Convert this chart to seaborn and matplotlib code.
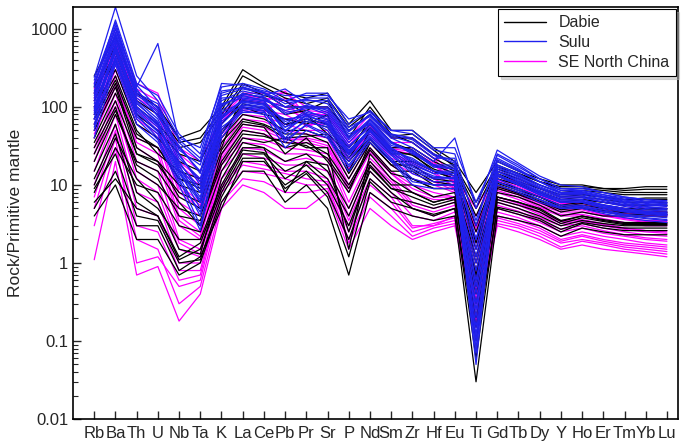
import pandas as pd
import matplotlib
matplotlib.use('Agg')
import matplotlib.pyplot as plt
import seaborn as sns
from matplotlib.lines import Line2D
from matplotlib.ticker import FuncFormatter, LogLocator

# element order on the spider diagram
elements = ['Rb', 'Ba', 'Th', 'U', 'Nb', 'Ta', 'K', 'La', 'Ce', 'Pb', 'Pr', 'Sr', 'P', 'Nd',
            'Sm', 'Zr', 'Hf', 'Eu', 'Ti', 'Gd', 'Tb', 'Dy', 'Y', 'Ho', 'Er', 'Tm', 'Yb', 'Lu']

# Sulu samples (rock / primitive mantle)
sulu = [
    [240, 1900, 250, 120, 40, 30, 180, 200, 170, 120, 150, 150, 60, 90, 50, 45, 28, 25, 3, 25, 18, 12, 9, 9, 8, 7, 6.5, 6.3],
    [200, 1100, 180, 650, 35, 20, 150, 180, 150, 100, 130, 130, 50, 80, 45, 40, 25, 20, 2, 22, 16, 11, 8.5, 8.5, 7.5, 6.5, 6, 5.8],
    [150, 900, 160, 90, 30, 15, 120, 160, 140, 170, 110, 90, 40, 70, 40, 30, 20, 40, 5, 28, 19, 13, 10, 9.5, 8, 7, 6.5, 6],
    [120, 700, 140, 100, 25, 10, 100, 150, 130, 80, 100, 80, 35, 65, 35, 25, 18, 18, 0.5, 18, 14, 10, 8, 8, 7, 6, 5.5, 5.3],
    [100, 600, 120, 70, 20, 8, 90, 140, 120, 60, 90, 70, 30, 60, 30, 20, 15, 15, 0.1, 16, 12, 9, 7, 7, 6, 5.5, 5, 4.8],
    [80, 500, 100, 60, 18, 6, 70, 120, 110, 50, 80, 60, 25, 50, 28, 18, 14, 14, 0.05, 15, 11, 8, 6.5, 6.5, 5.5, 5, 4.5, 4.3],
    [60, 450, 90, 50, 15, 5, 60, 110, 100, 40, 70, 50, 20, 45, 25, 15, 12, 12, 0.3, 13, 10, 7.5, 6, 6, 5, 4.5, 4.2, 4],
    [50, 400, 80, 40, 12, 3, 50, 100, 90, 35, 60, 45, 18, 40, 22, 12, 10, 10, 1, 12, 9, 7, 5.5, 5.5, 4.8, 4.2, 4, 3.8],
    [40, 350, 60, 35, 10, 2.6, 40, 90, 80, 30, 50, 40, 15, 35, 20, 10, 9, 9, 0.8, 10, 8, 6, 5, 5, 4.3, 3.8, 3.5, 3.3],
    [180, 1300, 200, 140, 45, 25, 200, 190, 160, 140, 140, 140, 70, 85, 50, 50, 30, 30, 6, 24, 17, 12, 9, 8.5, 7.5, 6.8, 6.2, 6],
    [130, 800, 130, 80, 22, 12, 110, 130, 120, 100, 100, 100, 45, 60, 32, 28, 18, 16, 2, 17, 13, 9.5, 7.5, 7.5, 6.5, 5.8, 5.3, 5],
    [90, 550, 110, 65, 16, 7, 80, 100, 95, 70, 75, 65, 28, 50, 27, 22, 15, 13, 0.2, 14, 10, 7.5, 6, 6, 5.2, 4.6, 4.3, 4.1],
    [70, 650, 75, 45, 13, 4, 55, 85, 85, 45, 65, 55, 22, 42, 24, 14, 11, 11, 0.15, 11, 8.5, 6.5, 5, 5.2, 4.5, 4, 3.7, 3.5],
    [160, 1000, 150, 110, 28, 18, 140, 170, 150, 120, 120, 120, 55, 75, 42, 35, 22, 22, 1.5, 20, 15, 11, 8, 8, 7, 6.2, 5.8, 5.5],
    [110, 750, 95, 55, 19, 9, 85, 115, 105, 55, 85, 75, 32, 55, 30, 19, 14, 14, 0.4, 15, 11.5, 8.5, 6.8, 6.8, 6, 5.3, 4.8, 4.6],
    [220, 1200, 170, 75, 32, 14, 130, 135, 125, 90, 105, 85, 38, 68, 36, 26, 17, 17, 0.08, 18, 13.5, 10, 7.8, 7.8, 6.8, 6, 5.6, 5.4],
    [70, 420, 85, 48, 14, 6, 65, 105, 98, 55, 72, 58, 24, 48, 26, 17, 13, 12, 0.6, 13, 10, 7.5, 6, 6, 5.2, 4.7, 4.4, 4.2],
    [95, 580, 115, 62, 17, 8, 75, 125, 115, 65, 82, 68, 27, 52, 29, 21, 15, 14, 0.25, 15, 11, 8.2, 6.4, 6.4, 5.6, 5, 4.6, 4.4],
    [140, 850, 145, 85, 24, 11, 105, 145, 135, 85, 95, 95, 42, 62, 34, 27, 17, 16, 1.2, 17, 12.5, 9.2, 7.2, 7.2, 6.3, 5.6, 5.2, 5],
    [55, 380, 70, 38, 11, 4.5, 45, 95, 88, 38, 58, 42, 17, 38, 21, 11, 10, 10, 0.12, 11, 8.5, 6.5, 5.2, 5.3, 4.6, 4.1, 3.8, 3.6],
    [190, 1000, 190, 95, 38, 22, 160, 175, 155, 110, 125, 110, 48, 78, 44, 38, 24, 19, 3.5, 21, 15.5, 11, 8.5, 8.2, 7.2, 6.4, 6, 5.7],
    [85, 520, 100, 58, 15, 6.5, 72, 118, 108, 48, 78, 62, 26, 50, 27, 16, 12.5, 12.5, 0.07, 13.5, 10.5, 7.8, 6.2, 6.2, 5.4, 4.8, 4.4, 4.2],
]

# Dabie samples
dabie = [
    [250, 800, 150, 100, 40, 50, 100, 300, 200, 150, 130, 150, 60, 120, 50, 50, 30, 20, 8, 20, 15, 12, 10, 10, 9, 9, 9.5, 9.5],
    [150, 500, 100, 60, 30, 35, 80, 200, 150, 100, 100, 100, 50, 80, 40, 40, 25, 18, 6, 18, 14, 11, 9, 9, 8.5, 8, 8, 8],
    [100, 300, 60, 40, 20, 15, 60, 120, 110, 60, 70, 60, 30, 60, 30, 30, 20, 15, 3, 15, 12, 9, 7, 7.5, 7, 6.5, 6.5, 6.5],
    [60, 200, 30, 20, 10, 8, 40, 80, 70, 50, 50, 40, 20, 40, 20, 20, 15, 12, 2, 12, 10, 8, 6, 6.5, 6, 5.5, 5.5, 5.5],
    [30, 100, 15, 10, 5, 4, 20, 50, 45, 30, 35, 25, 10, 30, 15, 15, 10, 10, 1, 10, 8, 6.5, 5, 5.5, 5, 4.5, 4.5, 4.5],
    [15, 60, 8, 5, 2, 2, 10, 30, 30, 20, 25, 15, 5, 20, 10, 10, 7, 8, 0.5, 8, 7, 5.5, 4, 4.5, 4, 4, 4, 4],
    [5, 15, 3, 3, 0.8, 1.2, 5, 20, 20, 10, 15, 8, 2, 12, 7, 6, 5, 6, 0.2, 6, 5, 4, 3, 3.5, 3.2, 3, 3, 3],
    [4, 10, 2, 2, 0.7, 1, 6, 15, 15, 6, 10, 5, 0.7, 8, 5, 4, 3.5, 4, 0.03, 4, 3.5, 3, 2.2, 2.8, 2.5, 2.3, 2.3, 2.3],
    [8, 30, 10, 8, 3, 2.5, 15, 40, 35, 40, 30, 30, 1.5, 25, 12, 8, 6, 7, 0.3, 7, 6, 5, 3.5, 4, 3.5, 3.2, 3.2, 3.2],
    [40, 150, 40, 30, 12, 10, 50, 100, 80, 70, 60, 80, 15, 50, 25, 25, 15, 12, 1.5, 13, 10, 8, 6.5, 6.5, 6, 5.5, 5.5, 5.5],
    [20, 80, 20, 15, 6, 3, 25, 60, 55, 25, 40, 20, 8, 35, 18, 12, 9, 9, 0.8, 9, 7.5, 6, 4.5, 5, 4.5, 4.2, 4.2, 4.2],
    [80, 250, 50, 25, 15, 12, 30, 150, 130, 80, 90, 120, 40, 100, 45, 35, 22, 16, 4, 16, 13, 10, 8, 8.5, 8, 7.5, 7.5, 7.5],
    [6, 12, 5, 4, 1.1, 1.5, 8, 25, 25, 12, 18, 10, 3, 15, 8, 5, 4, 5, 0.1, 5, 4.2, 3.5, 2.5, 3.2, 2.8, 2.6, 2.6, 2.6],
    [50, 180, 25, 18, 8, 6, 35, 70, 60, 45, 45, 35, 12, 35, 18, 18, 12, 11, 0.6, 11, 9, 7, 5.5, 6, 5.5, 5, 5, 5],
    [120, 400, 80, 50, 25, 20, 70, 180, 140, 120, 80, 45, 25, 70, 35, 28, 18, 14, 2.5, 14, 11, 9, 7.5, 7.5, 7, 6.5, 6.8, 6.8],
    [10, 40, 12, 6, 1.5, 1.3, 12, 35, 30, 8, 20, 12, 4, 18, 9, 7, 5.5, 6.5, 0.4, 6.5, 5.5, 4.5, 3.2, 3.8, 3.4, 3.1, 3.1, 3.1],
    [25, 90, 18, 12, 4, 3.5, 18, 45, 42, 35, 32, 22, 9, 28, 14, 12, 9, 9, 0.7, 9.5, 7.8, 6.2, 4.8, 5.2, 4.7, 4.4, 4.4, 4.4],
    [70, 220, 45, 30, 12, 9, 45, 110, 95, 60, 65, 55, 22, 55, 28, 24, 16, 13, 1.8, 13, 10.5, 8.2, 6.5, 7, 6.5, 6, 6, 6],
    [12, 45, 6, 4, 1.2, 1.8, 9, 28, 26, 15, 20, 18, 2.5, 17, 9, 8, 6, 7, 0.15, 7, 6, 4.8, 3.4, 4, 3.6, 3.3, 3.3, 3.3],
    [180, 600, 120, 80, 35, 40, 90, 250, 180, 130, 110, 130, 55, 90, 42, 45, 28, 17, 5, 17, 14, 11, 9.5, 9.5, 9, 8.5, 8.8, 8.8],
    [35, 120, 25, 20, 7, 5, 28, 65, 58, 40, 42, 45, 14, 38, 20, 16, 11, 10, 1.2, 10.5, 8.5, 7, 5.2, 5.8, 5.2, 4.8, 4.8, 4.8],
    [9, 25, 4, 3.5, 1, 1.1, 7, 22, 22, 9, 14, 7, 1.2, 11, 6, 5, 4.2, 5, 0.06, 5.2, 4.5, 3.7, 2.7, 3.3, 3, 2.8, 2.8, 2.8],
]

# SE North China samples
se_north_china = [
    [200, 1000, 200, 150, 30, 20, 80, 150, 150, 150, 100, 100, 40, 80, 40, 40, 25, 12, 5, 15, 12, 9, 7, 7, 6, 5.5, 5, 5],
    [150, 700, 150, 100, 20, 12, 60, 130, 120, 100, 80, 80, 30, 60, 30, 30, 20, 10, 3, 12, 10, 7.5, 6, 6, 5, 4.5, 4.2, 4.2],
    [100, 500, 100, 60, 10, 6, 40, 100, 90, 70, 60, 60, 20, 50, 25, 20, 15, 9, 2, 10, 8, 6, 5, 5, 4.2, 3.8, 3.5, 3.5],
    [60, 300, 60, 40, 5, 3, 30, 70, 65, 50, 45, 40, 12, 35, 18, 12, 10, 8, 1, 8, 6.5, 5, 4, 4, 3.5, 3.2, 3, 3],
    [30, 150, 20, 15, 2, 1.5, 20, 40, 38, 30, 28, 25, 6, 22, 12, 6, 5, 6, 0.5, 6, 5, 3.8, 3, 3.2, 2.8, 2.5, 2.3, 2.2],
    [10, 60, 5, 4, 0.8, 0.8, 10, 20, 18, 15, 15, 12, 3, 12, 7, 3, 3, 4, 0.3, 4, 3.5, 2.8, 2, 2.3, 2, 1.8, 1.7, 1.6],
    [1.1, 20, 0.7, 0.9, 0.18, 0.4, 5, 10, 8, 5, 5, 8, 1.5, 5, 3, 2, 2.5, 3, 0.15, 3, 2.5, 2, 1.5, 1.7, 1.5, 1.4, 1.3, 1.2],
    [5, 40, 1, 1.2, 0.5, 0.6, 8, 15, 14, 12, 10, 10, 2, 8, 5, 2.5, 3, 3.5, 0.2, 3.5, 3, 2.4, 1.8, 2, 1.8, 1.6, 1.5, 1.4],
    [50, 200, 40, 30, 4, 2.5, 25, 60, 55, 40, 40, 35, 10, 30, 15, 10, 8, 7, 0.8, 7, 6, 4.5, 3.5, 3.6, 3.2, 2.8, 2.6, 2.6],
    [80, 400, 80, 50, 8, 5, 50, 90, 85, 130, 55, 70, 25, 45, 22, 18, 12, 9, 1.5, 9, 7.5, 5.5, 4.5, 4.5, 4, 3.6, 3.3, 3.2],
    [20, 100, 12, 8, 1.5, 1.2, 15, 30, 28, 20, 22, 18, 4, 18, 10, 5, 4, 5, 0.4, 5, 4.2, 3.3, 2.5, 2.8, 2.4, 2.2, 2, 1.9],
    [120, 600, 120, 80, 15, 10, 70, 120, 110, 90, 75, 90, 35, 55, 28, 25, 18, 11, 2.5, 11, 9, 7, 5.5, 5.5, 4.8, 4.3, 4, 4],
    [3, 30, 2, 1.5, 0.3, 0.5, 6, 12, 11, 8, 8, 9, 1.8, 7, 4, 2.2, 2.8, 3.2, 0.18, 3.2, 2.8, 2.2, 1.6, 1.9, 1.7, 1.5, 1.4, 1.3],
    [40, 250, 30, 20, 3, 2, 22, 50, 45, 35, 35, 30, 8, 26, 14, 8, 6.5, 6.5, 0.6, 6.5, 5.5, 4.2, 3.2, 3.4, 3, 2.7, 2.5, 2.4],
    [170, 800, 170, 120, 25, 15, 75, 140, 130, 120, 90, 85, 35, 70, 35, 35, 22, 11, 4, 13, 11, 8, 6.5, 6.5, 5.5, 5, 4.6, 4.5],
    [15, 80, 8, 6, 1, 1, 12, 25, 22, 18, 18, 15, 3.5, 15, 8, 4, 3.5, 4.5, 0.35, 4.5, 3.8, 3, 2.2, 2.5, 2.2, 2, 1.8, 1.7],
    [90, 450, 90, 55, 9, 5.5, 45, 95, 90, 80, 58, 65, 22, 48, 24, 19, 14, 9.5, 1.8, 9.5, 7.8, 5.8, 4.8, 4.8, 4.1, 3.7, 3.4, 3.4],
    [70, 350, 70, 45, 6, 4, 35, 80, 75, 60, 50, 50, 16, 40, 20, 14, 11, 8.5, 1.2, 8.5, 7, 5.2, 4.2, 4.2, 3.7, 3.3, 3.1, 3.1],
    [130, 650, 130, 90, 18, 11, 65, 125, 115, 160, 78, 75, 32, 58, 29, 27, 19, 10.5, 2.8, 11.5, 9.5, 7.2, 5.8, 5.8, 5, 4.5, 4.1, 4.1],
    [45, 180, 35, 25, 3.5, 2.2, 24, 55, 50, 38, 38, 32, 9, 28, 14, 9, 7, 7, 0.7, 7, 5.8, 4.4, 3.4, 3.5, 3.1, 2.8, 2.6, 2.5],
    [25, 120, 15, 10, 1.8, 1.3, 18, 35, 33, 25, 25, 22, 5, 20, 11, 5.5, 4.5, 5.5, 0.45, 5.5, 4.6, 3.5, 2.7, 3, 2.6, 2.3, 2.1, 2],
    [7, 50, 3, 2.5, 0.6, 0.7, 9, 18, 16, 14, 12, 11, 2.5, 10, 6, 2.8, 3.2, 3.8, 0.25, 3.8, 3.2, 2.6, 1.9, 2.2, 1.9, 1.7, 1.6, 1.5],
]

groups = {'SE North China': se_north_china, 'Dabie': dabie, 'Sulu': sulu}
colors = {'Dabie': 'black', 'Sulu': '#2020ee', 'SE North China': '#ff00ff'}

# long table for seaborn
rows = []
for name, samples in groups.items():
    for s, vals in enumerate(samples):
        for i, v in enumerate(vals):
            rows.append({'group': name, 'sample': f'{name}-{s}', 'pos': i, 'value': v})
df = pd.DataFrame(rows)

sns.set_style('ticks')
plt.rcParams['font.family'] = ['Liberation Sans', 'DejaVu Sans']

fig = plt.figure(figsize=(6.85, 4.47), dpi=100)
ax = fig.add_axes([0.1066, 0.0626, 0.8825, 0.9214])

# magenta first, then black, blue on top (as in the original)
sns.lineplot(data=df, x='pos', y='value', hue='group', units='sample', estimator=None,
             hue_order=['SE North China', 'Dabie', 'Sulu'], palette=colors,
             lw=0.9, sort=False, legend=False, ax=ax)

ax.set_yscale('log')
ax.set_ylim(0.01, 1900)
ax.set_xlim(-1, 27.5)
ax.set_xticks(range(len(elements)))
ax.set_xticklabels(elements, fontsize=12)
ax.yaxis.set_major_locator(LogLocator(base=10))
ax.yaxis.set_minor_locator(LogLocator(base=10, subs=range(2, 10)))
ax.yaxis.set_major_formatter(FuncFormatter(lambda v, p: f'{v:g}'))
ax.tick_params(axis='y', which='major', direction='in', length=6, width=1, labelsize=12)
ax.tick_params(axis='y', which='minor', direction='in', length=3.5, width=0.8)
ax.tick_params(axis='x', which='major', direction='in', length=5.5, width=1, pad=5)
ax.set_xlabel('')
ax.set_ylabel('Rock/Primitive mantle', fontsize=12.5, labelpad=6)
for sp in ax.spines.values():
    sp.set_visible(True)
    sp.set_linewidth(1.2)
    sp.set_color('black')

handles = [Line2D([], [], color=colors[k], lw=1) for k in ['Dabie', 'Sulu', 'SE North China']]
leg = ax.legend(handles, ['Dabie', 'Sulu', 'SE North China'], loc='upper right', fontsize=11.5,
                frameon=True, fancybox=False, edgecolor='black', framealpha=1,
                borderaxespad=0.1, handlelength=2.6, labelspacing=0.3, handletextpad=0.8,
                shadow={'color': '0.7'})
leg.get_frame().set_linewidth(0.8)

fig.savefig('out.png', dpi=100)
